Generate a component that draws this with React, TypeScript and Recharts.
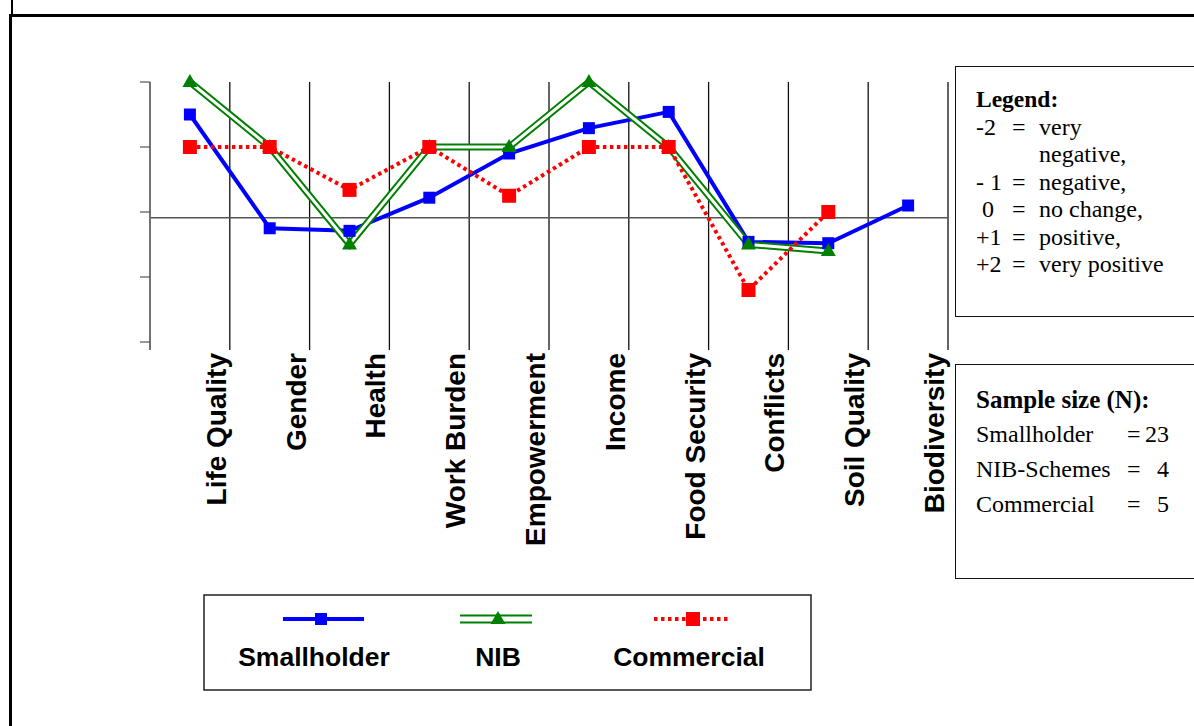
import React from 'react';
import {
  LineChart,
  Line,
  XAxis,
  YAxis,
  CartesianGrid,
  ReferenceLine
} from 'recharts';

const categories = [
  'Life Quality',
  'Gender',
  'Health',
  'Work Burden',
  'Empowerment',
  'Income',
  'Food Security',
  'Conflicts',
  'Soil Quality',
  'Biodiversity'
];

// -2 = very negative ... +2 = very positive
const smallholder = [1.5, -0.25, -0.29, 0.22, 0.9, 1.29, 1.54, -0.46, -0.48, 0.1];
const nib = [2, 1, -0.5, 1, 1, 2, 1, -0.5, -0.6, null];
const commercial = [1, 1, 0.34, 1, 0.25, 1, 1, -1.2, 0, null];

const yTicks = [-2, -1, 0, 1, 2];
const xBoundaries = [1, 2, 3, 4, 5, 6, 7, 8, 9, 10];

const scaleNotes = [
  ['-2', '=', 'very'],
  ['', '', 'negative,'],
  ['- 1', '=', 'negative,'],
  [' 0', '=', 'no change,'],
  ['+1', '=', 'positive,'],
  ['+2', '=', 'very positive']
];

const sampleSizes = [
  ['Smallholder', '23'],
  ['NIB-Schemes', '4'],
  ['Commercial', '5']
];

const data = categories.map((name, i) => ({
  x: i + 0.5,
  name,
  smallholder: smallholder[i],
  nib: nib[i],
  commercial: commercial[i]
}));

const BLUE = '#0000FF';
const GREEN = '#008000';
const RED = '#FF0000';
const SANS = '"Liberation Sans", Arial, sans-serif';
const SERIF = '"Liberation Serif", "Times New Roman", serif';

const squareDot = (size: number, color: string) => (props: any) => {
  const { cx, cy, index } = props;
  if (cx == null || cy == null || props.value == null) return <g key={`s-${index}`} />;
  return <rect key={`s-${index}`} x={cx - size / 2} y={cy - size / 2} width={size} height={size} fill={color} />;
};

const triangleDot = (props: any) => {
  const { cx, cy, index } = props;
  if (cx == null || cy == null || props.value == null) return <g key={`t-${index}`} />;
  return (
    <path
      key={`t-${index}`}
      d={`M${cx},${cy - 8} L${cx + 7.5},${cy + 5} L${cx - 7.5},${cy + 5} Z`}
      fill={GREEN}
    />
  );
};

const CategoryTick = (props: any) => {
  const { x, y, payload } = props;
  const name = categories[payload.value - 1];
  return (
    <text
      x={0}
      y={0}
      transform={`translate(${x - 4},${y + 1}) rotate(-90)`}
      textAnchor="end"
      fontFamily={SANS}
      fontWeight="bold"
      fontSize={28}
      fill="#000"
    >
      {name}
    </text>
  );
};

const noTick = () => <g />;

function BottomLegend() {
  return (
    <svg
      width={609}
      height={97}
      style={{ position: 'absolute', left: 203, top: 594 }}
    >
      <rect x={1} y={1} width={607} height={95} fill="#fff" stroke="#222" strokeWidth={1.5} />
      {/* Smallholder */}
      <line x1={80} x2={161} y1={25} y2={25} stroke={BLUE} strokeWidth={4} />
      <rect x={112} y={19} width={12} height={12} fill={BLUE} />
      <text x={111} y={72} textAnchor="middle" fontFamily={SANS} fontWeight="bold" fontSize={26.5}>Smallholder</text>
      {/* NIB */}
      <line x1={257} x2={329} y1={21.5} y2={21.5} stroke={GREEN} strokeWidth={2} />
      <line x1={257} x2={329} y1={28.5} y2={28.5} stroke={GREEN} strokeWidth={2} />
      <path d="M295,17 L302.5,30 L287.5,30 Z" fill={GREEN} />
      <text x={295} y={72} textAnchor="middle" fontFamily={SANS} fontWeight="bold" fontSize={26.5}>NIB</text>
      {/* Commercial */}
      <line x1={451} x2={527} y1={25} y2={25} stroke={RED} strokeWidth={4} strokeDasharray="3.5 3.5" />
      <rect x={483} y={18} width={14} height={14} fill={RED} />
      <text x={486} y={72} textAnchor="middle" fontFamily={SANS} fontWeight="bold" fontSize={26.5}>Commercial</text>
    </svg>
  );
}

function ScaleBox() {
  return (
    <div
      style={{
        position: 'absolute',
        left: 955,
        top: 66,
        width: 260,
        height: 251,
        border: '1.5px solid #111',
        boxSizing: 'border-box',
        fontFamily: SERIF,
        fontSize: 24,
        lineHeight: '27.5px',
        paddingTop: 19,
        paddingLeft: 20,
        color: '#000'
      }}
    >
      <div style={{ fontWeight: 'bold', fontSize: 23.5 }}>Legend:</div>
      {scaleNotes.map(([k, eq, v], i) => (
        <div key={i} style={{ display: 'flex', whiteSpace: 'pre' }}>
          <span style={{ width: 36 }}>{k}</span>
          <span style={{ width: 27 }}>{eq}</span>
          <span>{v}</span>
        </div>
      ))}
    </div>
  );
}

function SampleBox() {
  return (
    <div
      style={{
        position: 'absolute',
        left: 955,
        top: 364,
        width: 260,
        height: 215,
        border: '1.5px solid #111',
        boxSizing: 'border-box',
        fontFamily: SERIF,
        fontSize: 24,
        lineHeight: '35px',
        paddingTop: 17,
        paddingLeft: 20,
        color: '#000'
      }}
    >
      <div style={{ fontWeight: 'bold', fontSize: 25 }}>Sample size (N):</div>
      {sampleSizes.map(([k, v], i) => (
        <div key={i} style={{ display: 'flex', whiteSpace: 'pre' }}>
          <span style={{ width: 151 }}>{k}</span>
          <span style={{ width: 16 }}>=</span>
          <span style={{ width: 26, textAlign: 'right' }}>{v}</span>
        </div>
      ))}
    </div>
  );
}

export default function App() {
  return (
    <div
      style={{
        position: 'absolute',
        left: 0,
        top: 0,
        width: 1194,
        height: 726,
        overflow: 'hidden',
        background: '#fff'
      }}
    >
      {/* page frame */}
      <div style={{ position: 'absolute', left: 11, top: 0, width: 2, height: 15, background: '#000' }} />
      <div style={{ position: 'absolute', left: 9, top: 14, width: 1200, height: 3, background: '#000' }} />
      <div style={{ position: 'absolute', left: 9, top: 14, width: 3, height: 720, background: '#000' }} />

      <div style={{ position: 'absolute', left: 0, top: 0 }}>
        <LineChart
          width={1000}
          height={600}
          data={data}
          margin={{ top: 82, right: 52, bottom: 30, left: 140 }}
        >
          <CartesianGrid horizontal={false} vertical stroke="#111" strokeWidth={1.3} />
          <XAxis
            dataKey="x"
            type="number"
            domain={[0, 10]}
            ticks={xBoundaries}
            interval={0}
            axisLine={false}
            tickLine={false}
            tickSize={0}
            height={220}
            tick={CategoryTick}
          />
          <YAxis
            type="number"
            domain={[-2.123, 2]}
            ticks={yTicks}
            width={10}
            tickSize={10}
            tick={noTick}
            axisLine={{ stroke: '#777', strokeWidth: 1.5 }}
            tickLine={{ stroke: '#555', strokeWidth: 1.2 }}
          />
          <ReferenceLine y={-0.09} stroke="#555" strokeWidth={1.5} />
          <Line
            dataKey="smallholder"
            stroke={BLUE}
            strokeWidth={4}
            dot={squareDot(12, BLUE)}
            activeDot={false}
            isAnimationActive={false}
          />
          <Line
            dataKey="nib"
            stroke={GREEN}
            strokeWidth={7}
            dot={false}
            activeDot={false}
            isAnimationActive={false}
          />
          <Line
            dataKey="nib"
            stroke="#fff"
            strokeWidth={3}
            dot={triangleDot}
            activeDot={false}
            isAnimationActive={false}
          />
          <Line
            dataKey="commercial"
            stroke={RED}
            strokeWidth={4}
            strokeDasharray="3.5 3.5"
            dot={squareDot(14, RED)}
            activeDot={false}
            isAnimationActive={false}
          />
        </LineChart>
      </div>

      <ScaleBox />
      <SampleBox />
      <BottomLegend />
    </div>
  );
}
